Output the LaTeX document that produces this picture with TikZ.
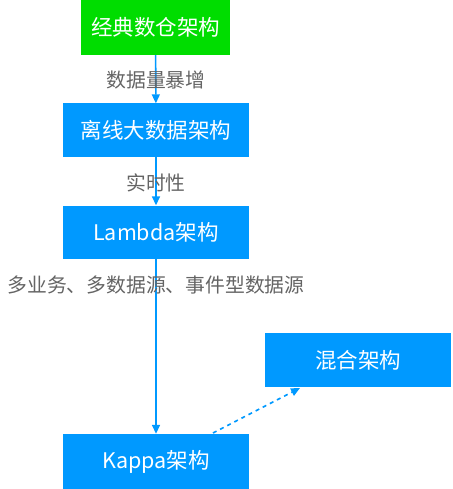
\documentclass[tikz,border=0pt]{standalone}
\usepackage{fontspec}
\setmainfont{Noto Sans CJK SC}
\usetikzlibrary{arrows.meta, positioning}
\definecolor{boxblue}{RGB}{0,153,255}
\definecolor{boxgreen}{RGB}{0,221,0}
\definecolor{labelgray}{RGB}{100,100,100}

\begin{document}
\begin{tikzpicture}[x=1pt, y=-1pt,
    archbox/.style={fill=boxblue, text=white, minimum width=186pt, minimum height=53pt, inner sep=0pt, font=\fontsize{21.5}{24}\selectfont},
    steplabel/.style={text=labelgray, inner sep=1pt, font=\fontsize{19.8}{22}\selectfont},
    flow/.style={-{Triangle[width=8pt,length=9pt]}, draw=boxblue, line width=1.6pt}]
    \useasboundingbox (0,0) rectangle (452,489);

    % Define the architecture boxes
    \node[archbox, fill=boxgreen, minimum width=149pt, minimum height=55pt] (classic) at (155.5,27.5) {经典数仓架构};
    \node[archbox] (offline) at (156,130) {离线大数据架构};
    \node[archbox] (lambda) at (156,232) {Lambda架构};
    \node[archbox, minimum height=55pt] (kappa) at (156,461.5) {Kappa架构};
    \node[archbox, minimum height=54pt] (hybrid) at (358,360) {混合架构};

    % Ends of the dashed arrow
    \coordinate (kstart) at (213,433);
    \coordinate (hend) at (300,388);

    % Draw the evolution arrows
    \draw[flow] (classic) -- (offline);
    \draw[flow] (offline) -- (lambda);
    \draw[flow] (lambda) -- (kappa);
    \draw[flow, dash pattern=on 4pt off 4pt] (kstart) -- (hend);

    % Label the arrows
    \node[steplabel] (growth) at (156,80) {数据量暴增};
    \node[steplabel] (realtime) at (156,183) {实时性};
    \node[steplabel] (sources) at (156,285) {多业务、多数据源、事件型数据源};
\end{tikzpicture}
\end{document}
